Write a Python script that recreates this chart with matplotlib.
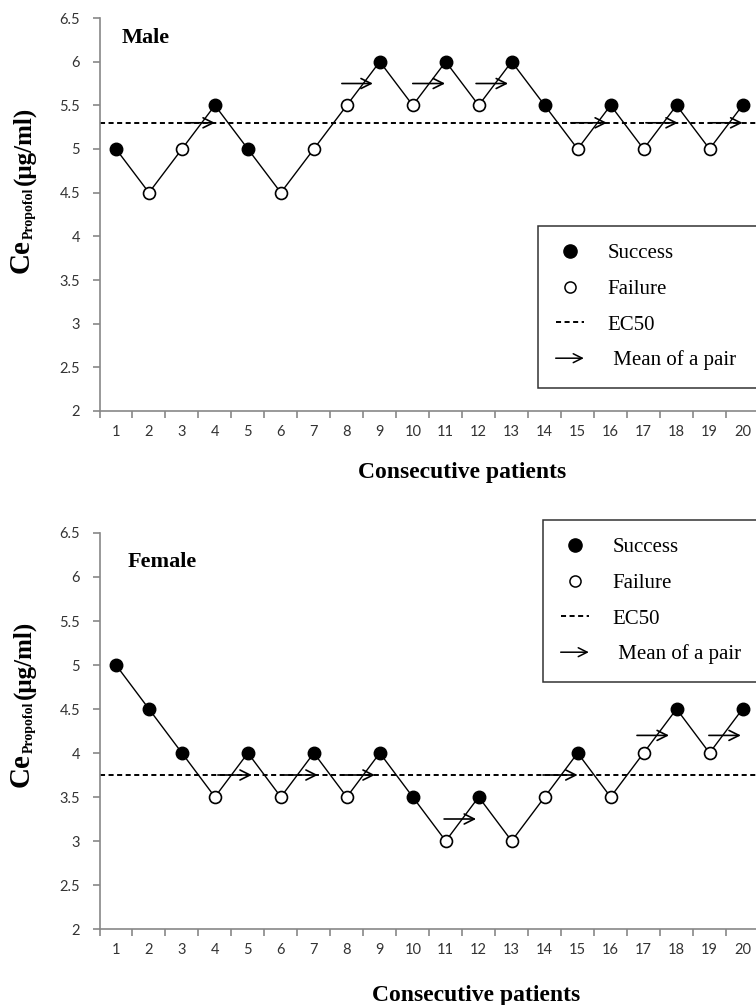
import numpy as np
import matplotlib.pyplot as plt
from matplotlib.lines import Line2D
from matplotlib.patches import FancyArrowPatch
from matplotlib.legend_handler import HandlerBase

# data (Ce propofol, ug/ml)
patients = list(range(1, 21))

male_ce = [5.0, 4.5, 5.0, 5.5, 5.0, 4.5, 5.0, 5.5, 6.0, 5.5,
           6.0, 5.5, 6.0, 5.5, 5.0, 5.5, 5.0, 5.5, 5.0, 5.5]
male_success = [1, 0, 0, 1, 1, 0, 0, 0, 1, 0, 1, 0, 1, 1, 0, 1, 0, 1, 0, 1]
male_ec50 = 5.3
male_arrow_x0 = [3.09, 7.85, 10.0, 11.92, 14.8, 17.07, 18.98]
male_arrow_x1 = [4.0, 8.79, 10.98, 12.89, 15.89, 18.04, 20.0]
male_arrow_y = [5.3, 5.75, 5.75, 5.75, 5.3, 5.3, 5.3]

female_ce = [5.0, 4.5, 4.0, 3.5, 4.0, 3.5, 4.0, 3.5, 4.0, 3.5,
             3.0, 3.5, 3.0, 3.5, 4.0, 3.5, 4.0, 4.5, 4.0, 4.5]
female_success = [1, 1, 1, 0, 1, 0, 1, 0, 1, 1, 0, 1, 0, 0, 1, 0, 0, 1, 0, 1]
female_ec50 = 3.75
female_arrow_x0 = [4.09, 6.12, 7.88, 10.95, 13.95, 16.8, 18.98]
female_arrow_x1 = [5.12, 7.12, 8.85, 11.92, 15.0, 17.77, 19.95]
female_arrow_y = [3.75, 3.75, 3.75, 3.25, 3.75, 4.2, 4.2]

y_ticks = [2, 2.5, 3, 3.5, 4, 4.5, 5, 5.5, 6, 6.5]
legend_labels = ['Success', 'Failure', 'EC50', ' Mean of a pair']

W, H = 756, 1005
serif = 'Liberation Serif'
dash = (0, (2.6, 1.8))
grey = '#878787'


class ArrowHandler(HandlerBase):
    def create_artists(self, legend, orig_handle, xdescent, ydescent,
                       width, height, fontsize, trans):
        y = height / 2 - ydescent
        arr = FancyArrowPatch((-xdescent, y), (width - xdescent, y),
                              arrowstyle='->', mutation_scale=16, lw=1.1,
                              color='black', shrinkA=0, shrinkB=0,
                              transform=trans)
        return [arr]


def panel(fig, rect, ce, success, ec50, ax0, ax1, ay, title, title_xy,
          legend_xy, ylab_y):
    ax = fig.add_axes(rect)
    ce = np.array(ce)
    ok = np.array(success) == 1
    x = np.array(patients)

    ax.plot(x, ce, color='black', lw=1.0, zorder=2)
    ax.axhline(ec50, color='black', lw=1.4, ls=dash, zorder=1)
    for x0, x1, y in zip(ax0, ax1, ay):
        ax.annotate('', xy=(x1, y), xytext=(x0, y),
                    arrowprops=dict(arrowstyle='->', color='black', lw=1.2,
                                    shrinkA=0, shrinkB=0, mutation_scale=18),
                    zorder=3)
    ax.plot(x[ok], ce[ok], ls='none', marker='o', ms=9, color='black', zorder=4)
    ax.plot(x[~ok], ce[~ok], ls='none', marker='o', ms=8.6, mfc='white',
            mec='black', mew=1.2, zorder=4)

    ax.set_xlim(0.5, 20.5)
    ax.set_ylim(2, 6.5)
    ax.set_xticks(patients)
    ax.set_xticklabels([str(p) for p in patients])
    ax.set_xticks(np.arange(0.5, 21, 1), minor=True)
    ax.set_yticks(y_ticks)
    ax.set_yticklabels([f'{t:g}' for t in y_ticks])
    ax.tick_params(axis='x', which='major', length=0, pad=10)
    ax.tick_params(axis='x', which='minor', length=5, width=1.2, color=grey)
    ax.tick_params(axis='y', length=5, width=1.2, color=grey, pad=9)
    ax.tick_params(labelsize=10.5, labelcolor='#333333')
    for lab in ax.get_xticklabels() + ax.get_yticklabels():
        lab.set_family('Lato')
    for s in ['top', 'right']:
        ax.spines[s].set_visible(False)
    for s in ['left', 'bottom']:
        ax.spines[s].set_color(grey)
        ax.spines[s].set_linewidth(1.2)

    fig.text(title_xy[0] / W, 1 - title_xy[1] / H, title, family=serif,
             fontweight='bold', fontsize=16, va='baseline')

    handles = [Line2D([], [], ls='none', marker='o', ms=9.5, color='black'),
               Line2D([], [], ls='none', marker='o', ms=8, mfc='white',
                      mec='black', mew=1.1),
               Line2D([], [], color='black', lw=1.4, ls=dash),
               FancyArrowPatch((0, 0), (1, 0))]
    # legend box runs past the right edge of the picture, as in the original
    leg = ax.legend(handles, legend_labels, loc='upper left', mode='expand',
                    bbox_to_anchor=(legend_xy[0] / W, 1 - legend_xy[1] / H,
                                    (775 - legend_xy[0]) / W, 0),
                    bbox_transform=fig.transFigure, borderaxespad=0,
                    prop={'family': serif, 'size': 15}, frameon=True,
                    fancybox=False, borderpad=0.85, handlelength=1.35,
                    handletextpad=1.15, labelspacing=0.77,
                    handler_map={handles[3]: ArrowHandler()})
    leg.get_frame().set_edgecolor('black')
    leg.get_frame().set_linewidth(1.1)

    # y label built from pieces: Ce + subscript + unit
    t1 = ax.annotate('Ce', xy=(29, H - ylab_y), xycoords='figure pixels',
                     rotation=90, rotation_mode='anchor', ha='left',
                     va='baseline', family=serif, fontweight='bold',
                     fontsize=21, annotation_clip=False)
    t2 = ax.annotate('Propofol', xy=(33, 1), xycoords=('figure pixels', t1),
                     rotation=90, rotation_mode='anchor', ha='left',
                     va='baseline', family=serif, fontweight='bold',
                     fontsize=10, annotation_clip=False)
    ax.annotate('(μg/ml)', xy=(30, 1), xycoords=('figure pixels', t2),
                xytext=(0, 3), textcoords='offset pixels',
                rotation=90, rotation_mode='anchor', ha='left',
                va='baseline', family=serif, fontweight='bold',
                fontsize=18, annotation_clip=False)
    return ax


fig = plt.figure(figsize=(W / 100, H / 100), dpi=100)
left = 99.5 / W
width = (759 - 99.5) / W

ax1 = panel(fig, [left, (H - 411) / H, width, 393 / H], male_ce, male_success,
            male_ec50, male_arrow_x0, male_arrow_x1, male_arrow_y,
            'Male', (122, 43), (538, 226), 273)
ax2 = panel(fig, [left, (H - 929) / H, width, 396 / H], female_ce,
            female_success, female_ec50, female_arrow_x0, female_arrow_x1,
            female_arrow_y, 'Female', (128, 567), (543, 520), 787)

fig.text(462 / W, 1 - 478 / H, 'Consecutive patients', family=serif,
         fontweight='bold', fontsize=17, ha='center', va='baseline')
fig.text(476 / W, 1 - 1001 / H, 'Consecutive patients', family=serif,
         fontweight='bold', fontsize=17, ha='center', va='baseline')

fig.savefig('out.png', dpi=100)
